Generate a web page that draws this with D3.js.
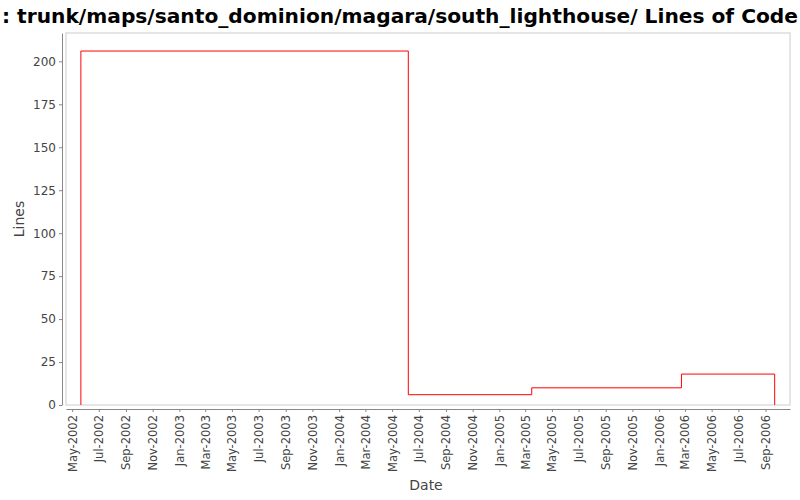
<!DOCTYPE html>
<html><head><meta charset="utf-8">
<script src="https://cdn.jsdelivr.net/npm/d3@7"></script>
<style>body{margin:0;background:#fff}</style></head>
<body><svg id="c" width="800" height="500"></svg>
<script>
const stepDates = ["2002-05-21","2004-06-07","2005-03-16","2006-02-21","2006-09-22"];
const stepValues = [206, 6, 10, 18, 0];
const yTicks = [0,25,50,75,100,125,150,175,200];
const title = ": trunk/maps/santo_dominion/magara/south_lighthouse/ Lines of Code";

const svg = d3.select("#c");
const L=66,R=790,T=33,B=405;
const parse = d3.timeParse("%Y-%m-%d");
const x = d3.scaleTime().domain([parse("2002-04-17"), parse("2006-10-27")]).range([L,R]);
const y = d3.scaleLinear().domain([0,216.5]).range([B,T]);

svg.append("text").attr("x",400).attr("y",23).attr("text-anchor","middle")
  .attr("font-family","DejaVu Sans").attr("font-weight","bold").attr("font-size",20.2).text(title);

svg.append("rect").attr("x",L).attr("y",T).attr("width",R-L).attr("height",B-T)
  .attr("fill","#fff").attr("stroke","#ccc");

const months = d3.timeMonth.every(2).range(parse("2002-05-01"), parse("2006-10-02"));
const xa = svg.append("g").attr("transform",`translate(0,${B+4})`)
  .call(d3.axisBottom(x).tickValues(months).tickFormat(d3.timeFormat("%b-%Y")).tickSize(3).tickSizeOuter(0));
xa.select(".domain").attr("stroke","#888");
xa.selectAll(".tick line").attr("stroke","#888");
xa.selectAll("text").attr("font-family","DejaVu Sans").attr("font-size",11.5).attr("fill","#444")
  .attr("transform","rotate(-90)").attr("text-anchor","end").attr("x",-6).attr("y",0).attr("dy","0.35em");

const ya = svg.append("g").attr("transform",`translate(${L-4},0)`)
  .call(d3.axisLeft(y).tickValues(yTicks).tickSize(3).tickSizeOuter(0));
ya.select(".domain").attr("stroke","#888");
ya.selectAll(".tick line").attr("stroke","#888");
ya.selectAll("text").attr("font-family","DejaVu Sans").attr("font-size",12).attr("fill","#444");

svg.append("text").attr("x",426).attr("y",490).attr("text-anchor","middle")
  .attr("font-family","DejaVu Sans").attr("font-size",14).attr("fill","#444").text("Date");
svg.append("text").attr("transform","translate(24,219) rotate(-90)").attr("text-anchor","middle")
  .attr("font-family","DejaVu Sans").attr("font-size",14).attr("fill","#444").text("Lines");

const pts = [[parse(stepDates[0]),0]].concat(stepDates.map((d,i)=>[parse(d),stepValues[i]]));
const line = d3.line().x(d=>x(d[0])).y(d=>y(d[1])).curve(d3.curveStepAfter);
svg.append("path").attr("d",line(pts)).attr("fill","none").attr("stroke","red").attr("stroke-width",1);
</script></body></html>
